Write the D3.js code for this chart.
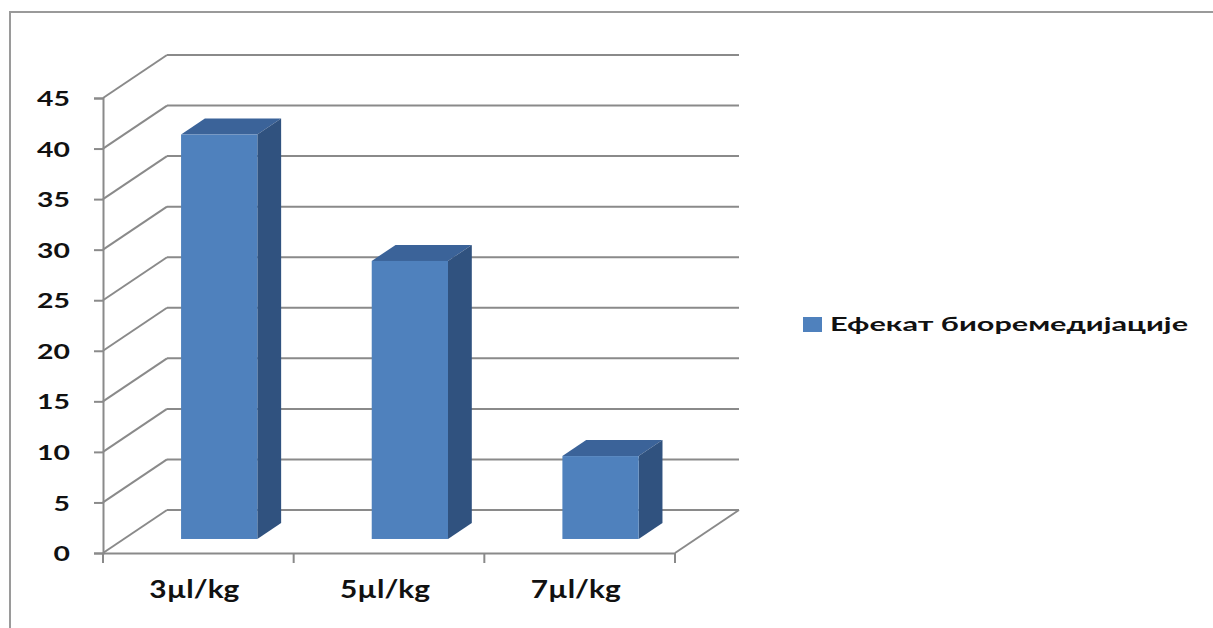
<!DOCTYPE html>
<html>
<head>
<meta charset="utf-8">
<script src="https://cdn.jsdelivr.net/npm/d3@7"></script>
<style>
  html, body { margin: 0; padding: 0; background: #ffffff; }
  text { font-family: Lato, "Open Sans", sans-serif; font-weight: bold; fill: #111; }
</style>
</head>
<body>
<div id="chart"></div>
<script>
// chart data
const categories = ['3µl/kg', '5µl/kg', '7µl/kg'];
const values = [40, 27.5, 8.2];
const yTicks = [0, 5, 10, 15, 20, 25, 30, 35, 40, 45];
const seriesName = 'Ефекат биоремедијације';

const width = 1213, height = 628;

// front plane of the 3D box
const x0 = 103, x1 = 675;
const DX = 64, DY = 43;          // depth offset of the back wall
const barT0 = 0.326, barT1 = 0.698;  // bar depth range (0 = front, 1 = back)

const svg = d3.select('#chart')
    .append('svg')
    .attr('width', width)
    .attr('height', height);

svg.append('rect')
    .attr('width', width).attr('height', height)
    .attr('fill', '#fff');

// outer border of the chart area
svg.append('rect')
    .attr('x', 10).attr('y', 12)
    .attr('width', 1230).attr('height', 650)
    .attr('fill', 'none')
    .attr('stroke', '#9a9a9a')
    .attr('stroke-width', 2);

const x = d3.scaleBand().domain(categories).range([x0, x1]);
const y = d3.scaleLinear().domain([0, 45]).range([553, 98]);

const gridColor = '#8a8a8a';
const grid = svg.append('g')
    .attr('stroke', gridColor)
    .attr('stroke-width', 2)
    .attr('fill', 'none');

// back wall gridlines
grid.selectAll('line.back')
    .data(yTicks)
    .enter()
    .append('line')
    .attr('class', 'back')
    .attr('x1', x0 + DX).attr('x2', x1 + DX)
    .attr('y1', d => y(d) - DY).attr('y2', d => y(d) - DY);

// side wall diagonals
grid.selectAll('line.side')
    .data(yTicks)
    .enter()
    .append('line')
    .attr('class', 'side')
    .attr('x1', x0).attr('x2', x0 + DX)
    .attr('y1', d => y(d)).attr('y2', d => y(d) - DY);

// floor right edge
grid.append('line')
    .attr('x1', x1).attr('y1', y(0))
    .attr('x2', x1 + DX).attr('y2', y(0) - DY);

// bars
const barW = x.bandwidth() / 2.5;
const bars = svg.append('g');

categories.forEach((c, i) => {
    const v = values[i];
    const fx = x(c) + (x.bandwidth() - barW) / 2 + DX * barT0;
    const fyTop = y(v) - DY * barT0;
    const fyBot = y(0) - DY * barT0;
    const ddx = DX * (barT1 - barT0);
    const ddy = DY * (barT1 - barT0);

    // top face
    bars.append('path')
        .attr('d', `M${fx},${fyTop} L${fx + ddx},${fyTop - ddy} L${fx + barW + ddx},${fyTop - ddy} L${fx + barW},${fyTop} Z`)
        .attr('fill', '#3b6399');
    // side face
    bars.append('path')
        .attr('d', `M${fx + barW},${fyTop} L${fx + barW + ddx},${fyTop - ddy} L${fx + barW + ddx},${fyBot - ddy} L${fx + barW},${fyBot} Z`)
        .attr('fill', '#30527f');
    // front face
    bars.append('rect')
        .attr('x', fx).attr('y', fyTop)
        .attr('width', barW).attr('height', fyBot - fyTop)
        .attr('fill', '#4f81bd');
});

// value axis
const yAxis = svg.append('g')
    .attr('transform', `translate(${x0},0)`)
    .call(d3.axisLeft(y).tickValues(yTicks).tickSize(9).tickPadding(0).tickFormat(d3.format('d')));
yAxis.select('.domain').attr('stroke', gridColor).attr('stroke-width', 2);
yAxis.selectAll('.tick line').attr('stroke', gridColor).attr('stroke-width', 2);
yAxis.selectAll('.tick text')
    .attr('x', -33)
    .attr('dy', '0.36em')
    .style('font-size', '21px')
    .style('font-family', 'Lato, sans-serif')
    .style('font-weight', 'bold')
    .attr('fill', '#111')
    .each(function () {
        const w = this.getComputedTextLength();
        d3.select(this).attr('textLength', w * 1.35).attr('lengthAdjust', 'spacingAndGlyphs');
    });

// category axis
const xAxis = svg.append('g')
    .attr('transform', `translate(0,${y(0)})`)
    .call(d3.axisBottom(x).tickSize(0).tickFormat(d => d));
xAxis.select('.domain').attr('stroke', gridColor).attr('stroke-width', 2);
xAxis.selectAll('.tick text')
    .attr('x', -4)
    .attr('y', 45)
    .attr('dy', 0)
    .style('font-size', '25px')
    .style('font-family', 'Lato, sans-serif')
    .style('font-weight', 'bold')
    .attr('fill', '#111')
    .attr('textLength', 90)
    .attr('lengthAdjust', 'spacingAndGlyphs');

// category separators
const sepX = categories.map(c => x(c)).concat([x1]);
svg.append('g').selectAll('line')
    .data(sepX)
    .enter()
    .append('line')
    .attr('x1', d => d).attr('x2', d => d)
    .attr('y1', y(0)).attr('y2', y(0) + 10)
    .attr('stroke', gridColor)
    .attr('stroke-width', 2);

// legend
const legend = svg.append('g').attr('transform', 'translate(803,317)');
legend.append('rect')
    .attr('width', 19).attr('height', 15)
    .attr('fill', '#4f81bd');
legend.append('text')
    .attr('x', 27).attr('y', 14)
    .style('font-size', '18px')
    .attr('textLength', 358)
    .attr('lengthAdjust', 'spacingAndGlyphs')
    .text(seriesName);
</script>
</body>
</html>
